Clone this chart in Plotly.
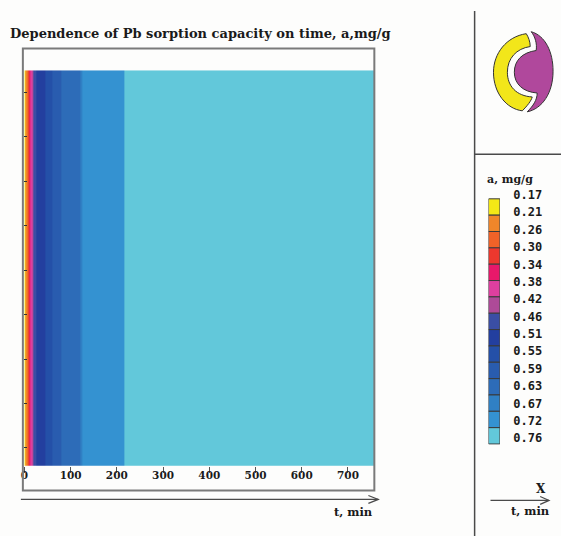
import plotly.graph_objects as go

W, H = 561, 536

# ---- data ----
a_levels = [0.17, 0.21, 0.26, 0.30, 0.34, 0.38, 0.42, 0.46, 0.51, 0.55, 0.59, 0.63, 0.67, 0.72, 0.76]
level_labels = ["0.17", "0.21", "0.26", "0.30", "0.34", "0.38", "0.42", "0.46",
                "0.51", "0.55", "0.59", "0.63", "0.67", "0.72", "0.76"]
level_colors = ["#f4e816", "#f0862a", "#ef6228", "#ec382e", "#e8186a", "#de3f9f", "#ae4a98",
                "#3a4ea4", "#233f9f", "#2450a8", "#295caf", "#2d6cb8", "#3080c4", "#3492d1", "#62c8da"]
# time (min) where a(t) crosses each contour level; band i lies between t_edges[i] and t_edges[i+1]
t_edges = [0, 3, 6, 8, 10, 13, 17, 20, 27, 46, 60, 79, 121, 126, 216, 757]
x_ticks = [0, 100, 200, 300, 400, 500, 600, 700]


def X(px):
    return px / W


def Y(py):
    return 1 - py / H


# discrete colorscale built from the level values
zmin, zmax = a_levels[0], a_levels[-1]
cs = []
for i, c in enumerate(level_colors):
    lo = 0.0 if i == 0 else ((a_levels[i - 1] + a_levels[i]) / 2 - zmin) / (zmax - zmin)
    hi = 1.0 if i == len(level_colors) - 1 else ((a_levels[i] + a_levels[i + 1]) / 2 - zmin) / (zmax - zmin)
    cs.append([lo, c])
    cs.append([hi, c])

fig = go.Figure()

fig.add_trace(go.Heatmap(
    x=t_edges, y=[0, 1], z=[a_levels],
    colorscale=cs, zmin=zmin, zmax=zmax, showscale=False, hoverinfo="skip",
    xaxis="x", yaxis="y",
))

# legend boxes
n = len(a_levels)
fig.add_trace(go.Bar(
    x=[0] * n, y=[1] * n, base=list(range(n)), width=1,
    marker=dict(color=level_colors, line=dict(color="#3a3a3a", width=1)),
    xaxis="x2", yaxis="y2", showlegend=False, hoverinfo="skip",
))

serif = "DejaVu Serif"
dark = "#1a1a1a"

box_top, box_h = 195.0, 16.53
lab_top, lab_step = 191.0, 17.57
y2_lo, y2_hi = -0.3, 15.05
tickvals2 = [(lab_top + lab_step * i - box_top) / box_h for i in range(n)]

fig.update_layout(
    width=W, height=H, margin=dict(l=0, r=0, t=0, b=0),
    paper_bgcolor="#fdfdfc", plot_bgcolor="rgba(0,0,0,0)",
    showlegend=False,
    xaxis=dict(domain=[X(20.5), X(373)], range=[0, 757], tickvals=x_ticks,
               ticks="outside", ticklen=6, tickcolor="#555", tickwidth=1,
               ticklabelstandoff=-6,
               tickfont=dict(family=serif, size=10.5, color=dark, weight="bold"),
               showgrid=False, zeroline=False, showline=False, fixedrange=True),
    yaxis=dict(domain=[Y(465), Y(65)], range=[0, 1], tick0=(465 - 447) / 400, dtick=45 / 400,
               ticks="inside", ticklen=3, tickcolor="#333", tickwidth=1,
               showticklabels=False, showgrid=False, zeroline=False, showline=False, fixedrange=True),
    xaxis2=dict(domain=[X(488), X(499.5)], range=[-0.5, 0.5], anchor="y2",
                showticklabels=False, showgrid=False, zeroline=False, showline=False, ticks=""),
    yaxis2=dict(domain=[Y(box_top + box_h * y2_hi), Y(box_top + box_h * y2_lo)],
                range=[y2_hi, y2_lo], anchor="x2", side="right",
                tickvals=tickvals2, ticktext=level_labels,
                ticks="outside", ticklen=10, tickcolor="rgba(0,0,0,0)",
                tickfont=dict(family="DejaVu Sans Mono", size=12, color=dark, weight="bold"),
                showgrid=False, zeroline=False, showline=False),
)

line_c = "#4a4a4a"
shapes = [
    # frame of main plot
    dict(type="rect", xref="paper", yref="paper", x0=X(19), x1=X(373), y0=Y(490), y1=Y(43),
         line=dict(color="#7a7a7a", width=2)),
    # separators
    dict(type="line", xref="paper", yref="paper", x0=X(474), x1=X(474), y0=Y(536), y1=Y(5),
         line=dict(color=line_c, width=1.5)),
    dict(type="line", xref="paper", yref="paper", x0=X(474), x1=X(561), y0=Y(150), y1=Y(150),
         line=dict(color=line_c, width=1.5)),
    # bottom arrows
    dict(type="line", xref="paper", yref="paper", x0=X(17), x1=X(377), y0=Y(499), y1=Y(499),
         line=dict(color=line_c, width=1.2)),
    dict(type="path", xref="paper", yref="paper",
         path=f"M {X(367)},{Y(495)} L {X(377)},{Y(499)} L {X(367)},{Y(503)}",
         line=dict(color=line_c, width=1.2)),
    dict(type="line", xref="paper", yref="paper", x0=X(490), x1=X(549), y0=Y(500), y1=Y(500),
         line=dict(color=line_c, width=1.2)),
    dict(type="path", xref="paper", yref="paper",
         path=f"M {X(540)},{Y(496)} L {X(549)},{Y(500)} L {X(540)},{Y(504)}",
         line=dict(color=line_c, width=1.2)),
]


def path_px(cmds):
    out = []
    for c in cmds:
        if isinstance(c, str):
            out.append(c)
        else:
            out.append(f"{X(c[0]):.5f},{Y(c[1]):.5f}")
    return " ".join(out)


yellow = path_px(["M", (526, 28), "C", (506, 31), (493, 48), (493, 67),
                  "C", (493, 88), (506, 104), (522, 106),
                  "C", (527, 101), (531, 96), (532, 92),
                  "C", (516, 91), (507, 81), (507, 67),
                  "C", (507, 53), (516, 43), (530, 41),
                  "C", (530, 36), (528, 31), (526, 28), "Z"])
purple = path_px(["M", (531, 26), "C", (545, 30), (553, 46), (553, 66),
                  "C", (553, 88), (542, 104), (527, 107),
                  "C", (533, 101), (537, 95), (537, 88),
                  "C", (523, 87), (514, 79), (514, 67),
                  "C", (514, 55), (522, 47), (536, 45),
                  "C", (537, 38), (535, 31), (531, 26), "Z"])
shapes.append(dict(type="path", xref="paper", yref="paper", path=yellow,
                   fillcolor="#f2e61a", line=dict(color="#333", width=1)))
shapes.append(dict(type="path", xref="paper", yref="paper", path=purple,
                   fillcolor="#b0489c", line=dict(color="#333", width=1)))

ann = [
    dict(text="Dependence of Pb sorption capacity on time, a,mg/g", x=X(4), y=Y(28),
         xanchor="left", yanchor="middle", font=dict(family=serif, size=13, color=dark, weight="bold")),
    dict(text="t, min", x=X(374), y=Y(512), xanchor="right", yanchor="middle",
         font=dict(family=serif, size=11.5, color=dark, weight="bold")),
    dict(text="a, mg/g", x=X(484), y=Y(175), xanchor="left", yanchor="middle",
         font=dict(family=serif, size=11, color=dark, weight="bold")),
    dict(text="X", x=X(541), y=Y(488), xanchor="center", yanchor="middle",
         font=dict(family=serif, size=12, color=dark, weight="bold")),
    dict(text="t, min", x=X(552), y=Y(511), xanchor="right", yanchor="middle",
         font=dict(family=serif, size=11.5, color=dark, weight="bold")),
]
for a in ann:
    a.update(xref="paper", yref="paper", showarrow=False)

fig.update_layout(shapes=shapes, annotations=ann)
fig.write_html("out.html", config={"displayModeBar": False},
               post_script="document.body.style.margin='0';document.body.style.overflow='hidden';")
